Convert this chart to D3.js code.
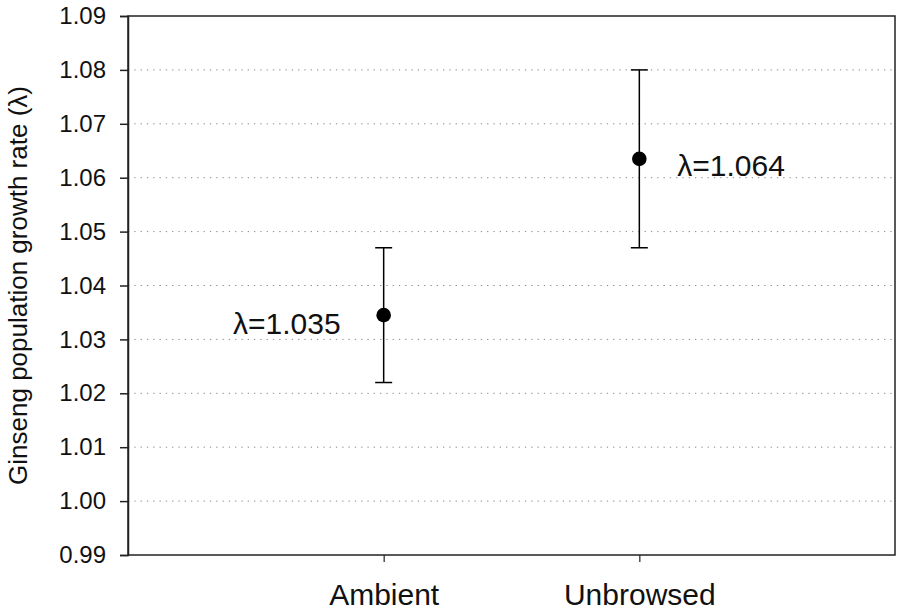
<!DOCTYPE html>
<html>
<head>
<meta charset="utf-8">
<script src="https://cdn.jsdelivr.net/npm/d3@7"></script>
<style>
  body { margin: 0; background: #fff; }
  svg { display: block; font-family: Arial, "Liberation Sans", sans-serif; }
</style>
</head>
<body>
<svg id="chart" width="900" height="614"></svg>
<script>
// Data
const categories = ["Ambient", "Unbrowsed"];
const means = [1.0345, 1.0635];
const upper = [1.047, 1.080];
const lower = [1.022, 1.047];
const annotations = ["λ=1.035", "λ=1.064"];
const yTicks = [0.99, 1.00, 1.01, 1.02, 1.03, 1.04, 1.05, 1.06, 1.07, 1.08, 1.09];
const yTitle = "Ginseng population growth rate (λ)";

const svg = d3.select("#chart");
const L = 128, R = 895, T = 16, B = 555;

const x = d3.scalePoint().domain(categories).range([L, R]).padding(1);
const y = d3.scaleLinear().domain([0.99, 1.09]).range([B, T]);

// gridlines
svg.append("g").selectAll("line")
  .data(yTicks.filter(d => d > 0.995 && d < 1.085))
  .join("line")
  .attr("x1", L).attr("x2", R)
  .attr("y1", d => y(d)).attr("y2", d => y(d))
  .attr("stroke", "#8a8a8a").attr("stroke-width", 1)
  .attr("stroke-dasharray", "1.3,5");

// frame
svg.append("rect").attr("x", L).attr("y", T).attr("width", R - L).attr("height", B - T)
  .attr("fill", "none").attr("stroke", "#222").attr("stroke-width", 1.5);

// y axis
const yAxis = svg.append("g").attr("transform", `translate(${L},0)`)
  .call(d3.axisLeft(y).tickValues(yTicks).tickFormat(d3.format(".2f")).tickSize(8).tickPadding(14));
yAxis.select(".domain").attr("stroke", "#222").attr("stroke-width", 1.5);
yAxis.selectAll(".tick line").attr("stroke", "#222").attr("stroke-width", 1.5);
yAxis.selectAll(".tick text").attr("font-size", 24).attr("fill", "#111")
  .attr("font-family", "Arial, 'Liberation Sans', sans-serif");

// x axis
const xAxis = svg.append("g").attr("transform", `translate(0,${B})`)
  .call(d3.axisBottom(x).tickSize(7).tickPadding(22));
xAxis.select(".domain").remove();
xAxis.selectAll(".tick line").attr("stroke", "#222").attr("stroke-width", 1.2);
xAxis.selectAll(".tick text").attr("font-size", 30).attr("fill", "#111")
  .attr("font-family", "Arial, 'Liberation Sans', sans-serif");

// y title
svg.append("text")
  .attr("transform", `translate(27,${(T + B) / 2}) rotate(-90)`)
  .attr("text-anchor", "middle")
  .attr("font-size", 26).attr("fill", "#111")
  .text(yTitle);

// error bars
const g = svg.append("g");
categories.forEach((c, i) => {
  const cx = x(c);
  g.append("line").attr("x1", cx).attr("x2", cx).attr("y1", y(upper[i])).attr("y2", y(lower[i]))
    .attr("stroke", "#000").attr("stroke-width", 1.5);
  [upper[i], lower[i]].forEach(v => {
    g.append("line").attr("x1", cx - 8.5).attr("x2", cx + 8.5).attr("y1", y(v)).attr("y2", y(v))
      .attr("stroke", "#000").attr("stroke-width", 1.5);
  });
  g.append("circle").attr("cx", cx).attr("cy", y(means[i])).attr("r", 7.3).attr("fill", "#000");
});

// annotations
svg.append("text").attr("x", x(categories[0]) - 43).attr("y", y(means[0]) + 8).attr("dy", "0.35em")
  .attr("text-anchor", "end").attr("font-size", 30).attr("fill", "#111").text(annotations[0]);
svg.append("text").attr("x", x(categories[1]) + 38).attr("y", y(means[1]) + 7).attr("dy", "0.35em")
  .attr("text-anchor", "start").attr("font-size", 30).attr("fill", "#111").text(annotations[1]);
</script>
</body>
</html>
